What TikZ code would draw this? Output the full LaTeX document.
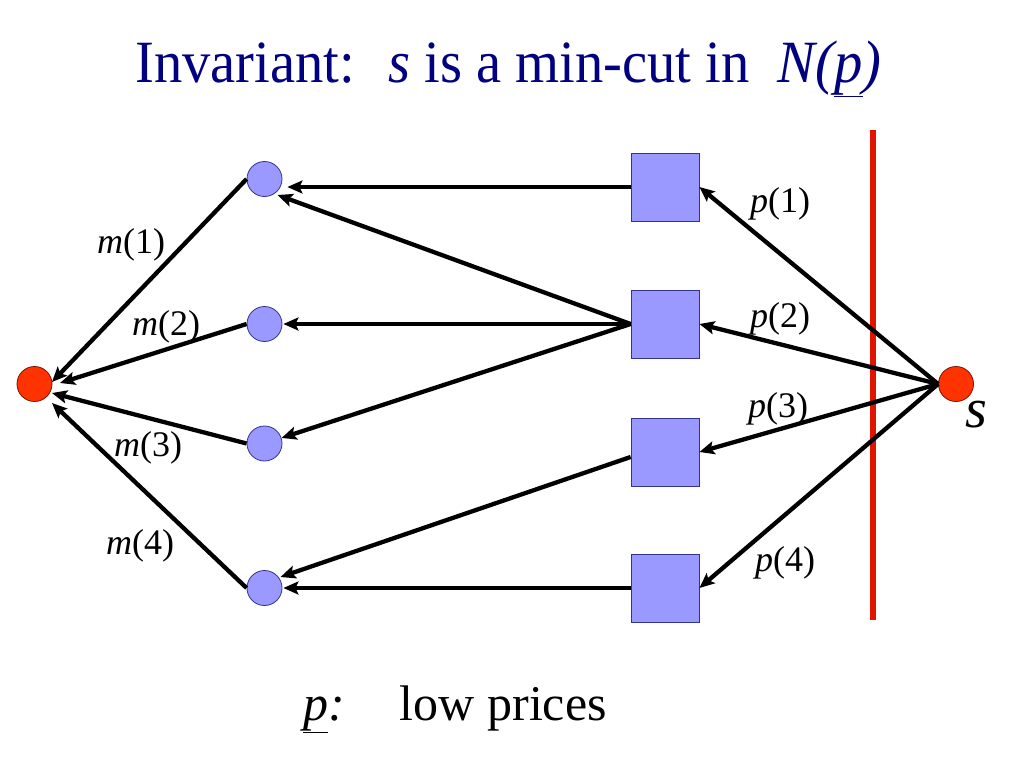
\documentclass[tikz,border=0pt]{standalone}
\usepackage{fontspec}
\setmainfont{Liberation Serif}
\newfontfamily\titlefont[FakeStretch=0.943]{Liberation Serif}
\usetikzlibrary{arrows.meta,calc}
\definecolor{navy}{RGB}{0,0,128}
\definecolor{nodeblue}{RGB}{153,153,255}
\definecolor{blueedge}{RGB}{51,51,140}
\definecolor{nodered}{RGB}{255,51,0}
\definecolor{rededge}{RGB}{120,20,0}
\definecolor{cutred}{RGB}{225,20,0}
\begin{document}
\begin{tikzpicture}[x=1pt,y=-1pt,
  bcirc/.style={circle,fill=nodeblue,draw=blueedge,line width=0.8pt,minimum size=35pt,inner sep=0pt},
  rcirc/.style={circle,fill=nodered,draw=rededge,line width=0.8pt,minimum size=35pt,inner sep=0pt},
  sqbox/.style={rectangle,fill=nodeblue,draw=blueedge,line width=0.8pt,minimum size=68pt,inner sep=0pt},
  arr/.style={-{Stealth[length=15pt,width=13pt,inset=3pt]},line width=4.3pt,black},
  lbl/.style={font=\fontsize{36}{40}\selectfont,inner sep=0pt}]
\useasboundingbox (0,0) rectangle (1024,768);
% title
\node[anchor=base west,inner sep=0pt,text=navy,font=\titlefont\fontsize{60}{70}\selectfont] (title) at (135,82)
  {Invariant:~ \textit{s} is a min-cut in~ \textit{N(\underline{p})}};
% nodes
\node[rcirc] (L) at (34.5,384) {};
\node[bcirc] (c1) at (264.5,179) {};
\node[bcirc] (c2) at (264.5,324) {};
\node[bcirc] (c3) at (264.5,443.5) {};
\node[bcirc] (c4) at (264.5,588) {};
\node[sqbox] (q1) at (665,187) {};
\node[sqbox] (q2) at (665,324) {};
\node[sqbox] (q3) at (665,452) {};
\node[sqbox] (q4) at (665,588) {};
\node[rcirc] (s) at (956,384) {};
\node[anchor=base,inner sep=0pt,font=\fontsize{56}{60}\selectfont] (slbl) at (976,427) {\textit{s}};
% cut line
\coordinate (cutA) at (873,130);
\coordinate (cutB) at (873,620);
\draw[cutred,line width=6pt] (cutA) -- (cutB);
% edges from s
\draw[arr] (s.west) -- (q1.east);
\draw[arr] (s.west) -- (q2.east);
\draw[arr] (s.west) -- (q3.east);
\draw[arr] (s.west) -- (q4.east);
% squares to circles
\draw[arr] (q1.west) -- ([xshift=5pt]q1.west -| c1.east);
\draw[arr] (q2.west) -- ([shift={(13,16)}]c1.center);
\draw[arr] (q2.west) -- ([xshift=1pt]q2.west -| c2.east);
\draw[arr] (q2.west) -- (c3);
\draw[arr] ([shift={(0,5)}]q3.west) -- ([shift={(16,-11)}]c4.center);
\draw[arr] (q4.west) -- ([xshift=1pt]q4.west -| c4.east);
% circles to L
\draw[arr] (c1.west) -- ([shift={(17.5,-2)}]L.center);
\draw[arr] (c2.west) -- ([shift={(25.5,-1)}]L.center);
\draw[arr] (c3.west) -- ([shift={(17.5,9)}]L.center);
\draw[arr] (c4.west) -- ([shift={(17.5,19)}]L.center);
% labels
\node[lbl] (m1) at (131,245) {\textit{m}(1)};
\node[lbl] (m2) at (166,327) {\textit{m}(2)};
\node[lbl] (m3) at (148,448) {\textit{m}(3)};
\node[lbl] (m4) at (140,546) {\textit{m}(4)};
\node[lbl] (p1) at (780,204) {\textit{p}(1)};
\node[lbl] (p2) at (780,319) {\textit{p}(2)};
\node[lbl] (p3) at (778,409) {\textit{p}(3)};
\node[lbl] (p4) at (785,563) {\textit{p}(4)};
% bottom
\node[anchor=base west,inner sep=0pt,font=\fontsize{50}{60}\selectfont] (bottom) at (303,720)
  {\underline{\textit{p}}\textit{:}\hspace{55pt}low prices};
\end{tikzpicture}
\end{document}
